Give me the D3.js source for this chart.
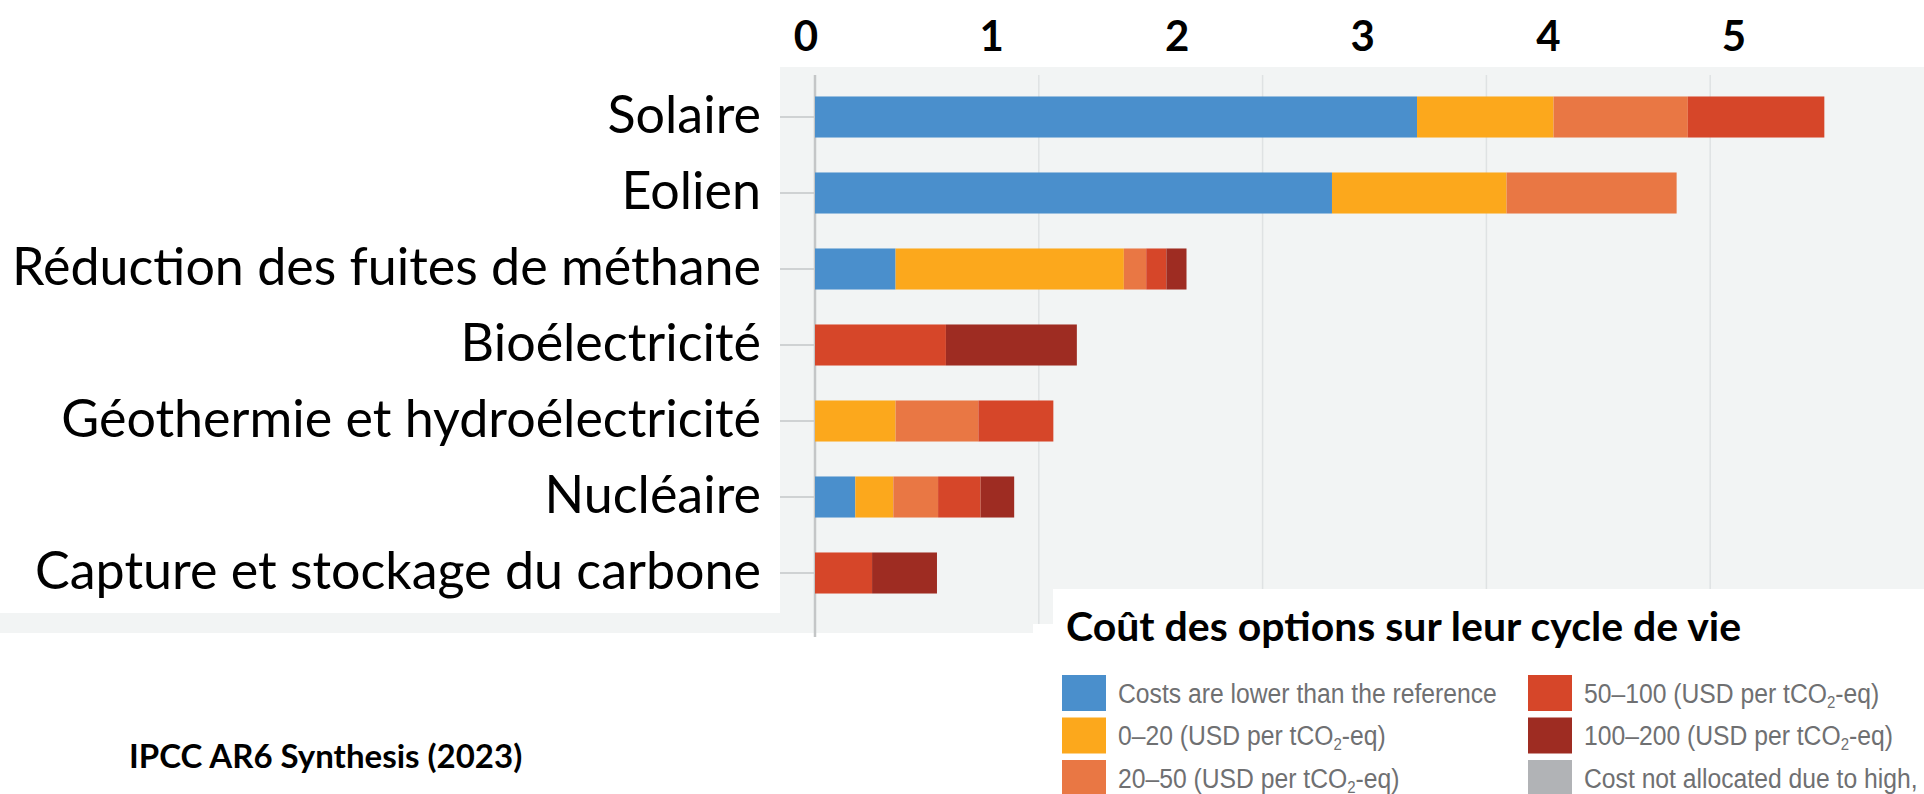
<!DOCTYPE html>
<html>
<head>
<meta charset="utf-8">
<script src="https://cdn.jsdelivr.net/npm/d3@7"></script>
<style>
  body { margin: 0; background: #fff; }
  svg { display: block; }
</style>
</head>
<body>
<svg id="chart" width="1924" height="794"></svg>
<script>
// options, top to bottom
const categories = [
  "Solaire",
  "Eolien",
  "Réduction des fuites de méthane",
  "Bioélectricité",
  "Géothermie et hydroélectricité",
  "Nucléaire",
  "Capture et stockage du carbone"
];

// potential contribution per cost band (GtCO2-eq/yr)
const costLower = [2.69, 2.31, 0.36, 0, 0, 0.18, 0];
const cost0to20 = [0.61, 0.78, 1.02, 0, 0.36, 0.17, 0];
const cost20to50 = [0.60, 0.76, 0.10, 0, 0.37, 0.20, 0];
const cost50to100 = [0.61, 0, 0.09, 0.585, 0.335, 0.19, 0.255];
const cost100to200 = [0, 0, 0.09, 0.585, 0, 0.15, 0.29];

const bandKeys = ["lower", "c0_20", "c20_50", "c50_100", "c100_200"];
const bandColors = ["#4a8fcc", "#fca81c", "#e97744", "#d64629", "#9e2c22"];

// the numbers printed on top of the picture
const topLabels = [0, 1, 2, 3, 4, 5];

const legendItems = [
  {text: "Costs are lower than the reference", color: "#4a8fcc"},
  {text: "0–20 (USD per tCO|2|-eq)", color: "#fca81c"},
  {text: "20–50 (USD per tCO|2|-eq)", color: "#e97744"},
  {text: "50–100 (USD per tCO|2|-eq)", color: "#d64629"},
  {text: "100–200 (USD per tCO|2|-eq)", color: "#9e2c22"},
  {text: "Cost not allocated due to high,", color: "#b1b3b6"}
];
const legendTitle = "Coût des options sur leur cycle de vie";
const source = "IPCC AR6 Synthesis (2023)";

const svg = d3.select("#chart");

const rows = categories.map((c, i) => ({
  name: c,
  lower: costLower[i],
  c0_20: cost0to20[i],
  c20_50: cost20to50[i],
  c50_100: cost50to100[i],
  c100_200: cost100to200[i]
}));

const x = d3.scaleLinear().domain([0, 5]).range([815, 1934]);
const xTop = d3.scaleLinear().domain([0, 5]).range([806, 1734]);
const y = d3.scaleBand().domain(categories).range([79, 611])
  .paddingInner(0.46).paddingOuter(0.23);

// plot panel
svg.append("rect").attr("x", 0).attr("y", 67).attr("width", 1924).attr("height", 566)
  .attr("fill", "#f2f4f4");

// grid
svg.append("g").selectAll("line").data(d3.range(1, 5)).join("line")
  .attr("x1", d => x(d)).attr("x2", d => x(d))
  .attr("y1", 75).attr("y2", 633)
  .attr("stroke", "#dfe2e3").attr("stroke-width", 1.5);

// white label box over the left of the panel
svg.append("rect").attr("x", 0).attr("y", 60).attr("width", 780).attr("height", 553)
  .attr("fill", "#fff");

// y ticks
svg.append("g").selectAll("line").data(categories).join("line")
  .attr("x1", 780).attr("x2", 815)
  .attr("y1", d => y(d) + y.bandwidth() / 2).attr("y2", d => y(d) + y.bandwidth() / 2)
  .attr("stroke", "#cfd2d3").attr("stroke-width", 2);

// axis line
svg.append("line").attr("x1", x(0)).attr("x2", x(0)).attr("y1", 75).attr("y2", 637)
  .attr("stroke", "#c4c6c7").attr("stroke-width", 2.5);

// stacked bars
const stacked = d3.stack().keys(bandKeys)(rows);
svg.append("g").selectAll("g").data(stacked).join("g")
  .attr("fill", (d, i) => bandColors[i])
  .selectAll("rect").data(d => d).join("rect")
  .attr("x", d => x(d[0]))
  .attr("width", d => Math.max(0, x(d[1]) - x(d[0])))
  .attr("y", d => y(d.data.name))
  .attr("height", y.bandwidth());

// category labels
svg.append("g").selectAll("text").data(categories).join("text")
  .attr("x", 761)
  .attr("y", d => y(d) + y.bandwidth() / 2 - 3)
  .attr("dy", "0.36em")
  .attr("text-anchor", "end")
  .attr("font-family", "Lato, 'Open Sans', sans-serif")
  .attr("font-size", 52)
  .attr("fill", "#000")
  .text(d => d);

// top numbers
svg.append("g").selectAll("text").data(topLabels).join("text")
  .attr("x", d => xTop(d))
  .attr("y", 51)
  .attr("text-anchor", "middle")
  .attr("font-family", "Lato, sans-serif")
  .attr("font-weight", "bold")
  .attr("font-size", 42)
  .attr("fill", "#000")
  .text(d => d);

// legend box
svg.append("rect").attr("x", 1053).attr("y", 589).attr("width", 871).attr("height", 205)
  .attr("fill", "#fff");
svg.append("rect").attr("x", 1033).attr("y", 624).attr("width", 891).attr("height", 170)
  .attr("fill", "#fff");

svg.append("text")
  .attr("x", 1066).attr("y", 641)
  .attr("font-family", "Lato, sans-serif")
  .attr("font-weight", "bold")
  .attr("font-size", 41)
  .attr("fill", "#000")
  .text(legendTitle);

const leg = svg.append("g").selectAll("g").data(legendItems).join("g")
  .attr("transform", (d, i) => `translate(${i < 3 ? 1062 : 1528},${675 + (i % 3) * 42.5})`);
leg.append("rect").attr("width", 44).attr("height", 36).attr("fill", d => d.color);
const lt = leg.append("text")
  .attr("y", 18).attr("dy", "0.35em")
  .attr("font-family", "'Liberation Sans', Arial, sans-serif")
  .attr("font-size", 28)
  .attr("fill", "#6f7072");
lt.each(function(d) {
  const parts = d.text.split("|");
  const t = d3.select(this);
  parts.forEach((p, j) => {
    const s = t.append("tspan").text(p);
    if (j === 1) s.attr("font-size", 17).attr("dy", 5);
    if (j === 2) s.attr("dy", -5);
  });
});
// the legend face is a condensed one: squeeze to the reference's width
const firstLen = lt.node().getComputedTextLength();
const squeeze = 379 / firstLen;
lt.attr("transform", `translate(56,0) scale(${squeeze},1)`);

// source
svg.append("text")
  .attr("x", 129).attr("y", 768)
  .attr("font-family", "Lato, sans-serif")
  .attr("font-weight", "bold")
  .attr("font-size", 33)
  .attr("fill", "#000")
  .text(source);
</script>
</body>
</html>
